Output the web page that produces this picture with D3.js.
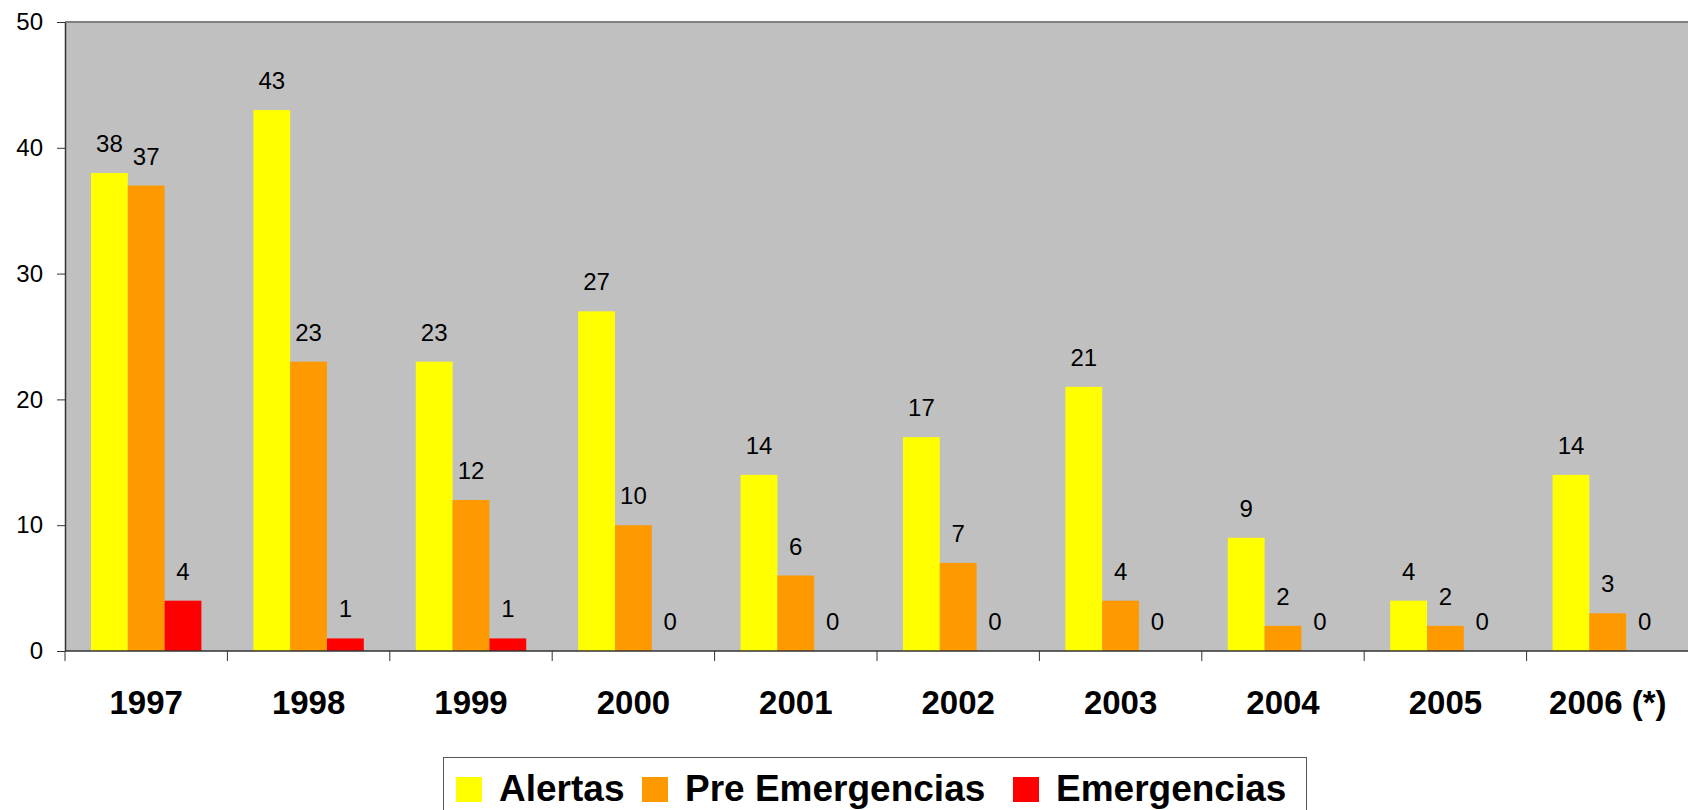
<!DOCTYPE html>
<html lang="es">
<head>
<meta charset="utf-8">
<title>Alertas y Emergencias 1997-2006</title>
<script src="https://d3js.org/d3.v7.min.js"></script>
<style>
body { margin: 0; background: #fff; }
text { font-family: "Liberation Sans", Arial, sans-serif; fill: #000; }
</style>
</head>
<body>
<div id="chart"></div>
<script>
// data
var years = ["1997", "1998", "1999", "2000", "2001", "2002", "2003", "2004", "2005", "2006 (*)"];
var alertas = [38, 43, 23, 27, 14, 17, 21, 9, 4, 14];
var preEmergencias = [37, 23, 12, 10, 6, 7, 4, 2, 2, 3];
var emergencias = [4, 1, 1, 0, 0, 0, 0, 0, 0, 0];
var seriesNames = ["Alertas", "Pre Emergencias", "Emergencias"];
var seriesColors = ["#FFFF00", "#FF9900", "#FF0000"];
var yTicks = [0, 10, 20, 30, 40, 50];

// plot box (note: "top" is reserved on window, so use own names)
var W = 1688, H = 810;
var plotL = 65, plotR = 1689, plotT = 22, plotB = 651;

var svg = d3.select("#chart").append("svg")
  .attr("width", W).attr("height", H);

var x = d3.scaleBand().domain(years).range([plotL, plotR]);
var xs = d3.scaleBand().domain(seriesNames)
  .range([x.bandwidth() * 0.16, x.bandwidth() * 0.84]);
var y = d3.scaleLinear().domain([0, 50]).range([plotB, plotT]);

// plot background
svg.append("rect")
  .attr("x", plotL).attr("y", plotT)
  .attr("width", plotR - plotL).attr("height", plotB - plotT)
  .attr("fill", "#C0C0C0");
svg.append("line")
  .attr("x1", plotL).attr("x2", plotR).attr("y1", plotT).attr("y2", plotT)
  .attr("stroke", "#808080").attr("stroke-width", 2);

var rows = years.map(function(yr, i) {
  return { year: yr, values: [alertas[i], preEmergencias[i], emergencias[i]] };
});

var groups = svg.append("g").selectAll("g")
  .data(rows).enter().append("g")
  .attr("transform", function(d) { return "translate(" + x(d.year) + ",0)"; });

groups.selectAll("rect")
  .data(function(d) { return d.values.map(function(v, k) { return { key: seriesNames[k], v: v, k: k }; }); })
  .enter().append("rect")
  .attr("x", function(d) { return xs(d.key); })
  .attr("y", function(d) { return y(d.v); })
  .attr("width", xs.bandwidth())
  .attr("height", function(d) { return plotB - y(d.v); })
  .attr("fill", function(d) { return seriesColors[d.k]; });

groups.selectAll("text.lbl")
  .data(function(d) { return d.values.map(function(v, k) { return { key: seriesNames[k], v: v }; }); })
  .enter().append("text")
  .attr("class", "lbl")
  .attr("x", function(d) { return xs(d.key) + xs.bandwidth() / 2; })
  .attr("y", function(d) { return y(d.v) - 21; })
  .attr("text-anchor", "middle")
  .style("font-size", "24px")
  .text(function(d) { return d.v; });

// y axis
var yAxis = svg.append("g")
  .attr("transform", "translate(" + plotL + ",0)")
  .call(d3.axisLeft(y).tickValues(yTicks).tickSizeInner(8).tickSizeOuter(0).tickPadding(14));
yAxis.select(".domain").attr("stroke", "#333").attr("stroke-width", 1.5);
yAxis.selectAll(".tick line").attr("stroke", "#333");
yAxis.selectAll(".tick text").style("font-size", "24px").attr("fill", "#000");

// x axis: ticks between categories
var xAxis = svg.append("g");
xAxis.append("line")
  .attr("x1", plotL).attr("x2", plotR).attr("y1", plotB).attr("y2", plotB)
  .attr("stroke", "#333").attr("stroke-width", 1.5);
xAxis.selectAll("line.tk")
  .data(years).enter().append("line")
  .attr("class", "tk")
  .attr("x1", function(d) { return x(d); }).attr("x2", function(d) { return x(d); })
  .attr("y1", plotB).attr("y2", plotB + 10)
  .attr("stroke", "#333");
xAxis.selectAll("text")
  .data(years).enter().append("text")
  .attr("x", function(d) { return x(d) + x.bandwidth() / 2; })
  .attr("y", 714)
  .attr("text-anchor", "middle")
  .style("font-size", "33px").style("font-weight", "bold")
  .text(function(d) { return d; });

// legend
var legend = svg.append("g");
legend.append("rect")
  .attr("x", 443.5).attr("y", 757.5).attr("width", 863).attr("height", 70)
  .attr("fill", "#fff").attr("stroke", "#555");
var legendX = [456, 642, 1013];
seriesNames.forEach(function(name, k) {
  legend.append("rect")
    .attr("x", legendX[k]).attr("y", 777).attr("width", 26).attr("height", 25)
    .attr("fill", seriesColors[k]);
  legend.append("text")
    .attr("x", legendX[k] + 43).attr("y", 801)
    .style("font-size", "37px").style("font-weight", "bold")
    .text(name);
});
</script>
</body>
</html>
